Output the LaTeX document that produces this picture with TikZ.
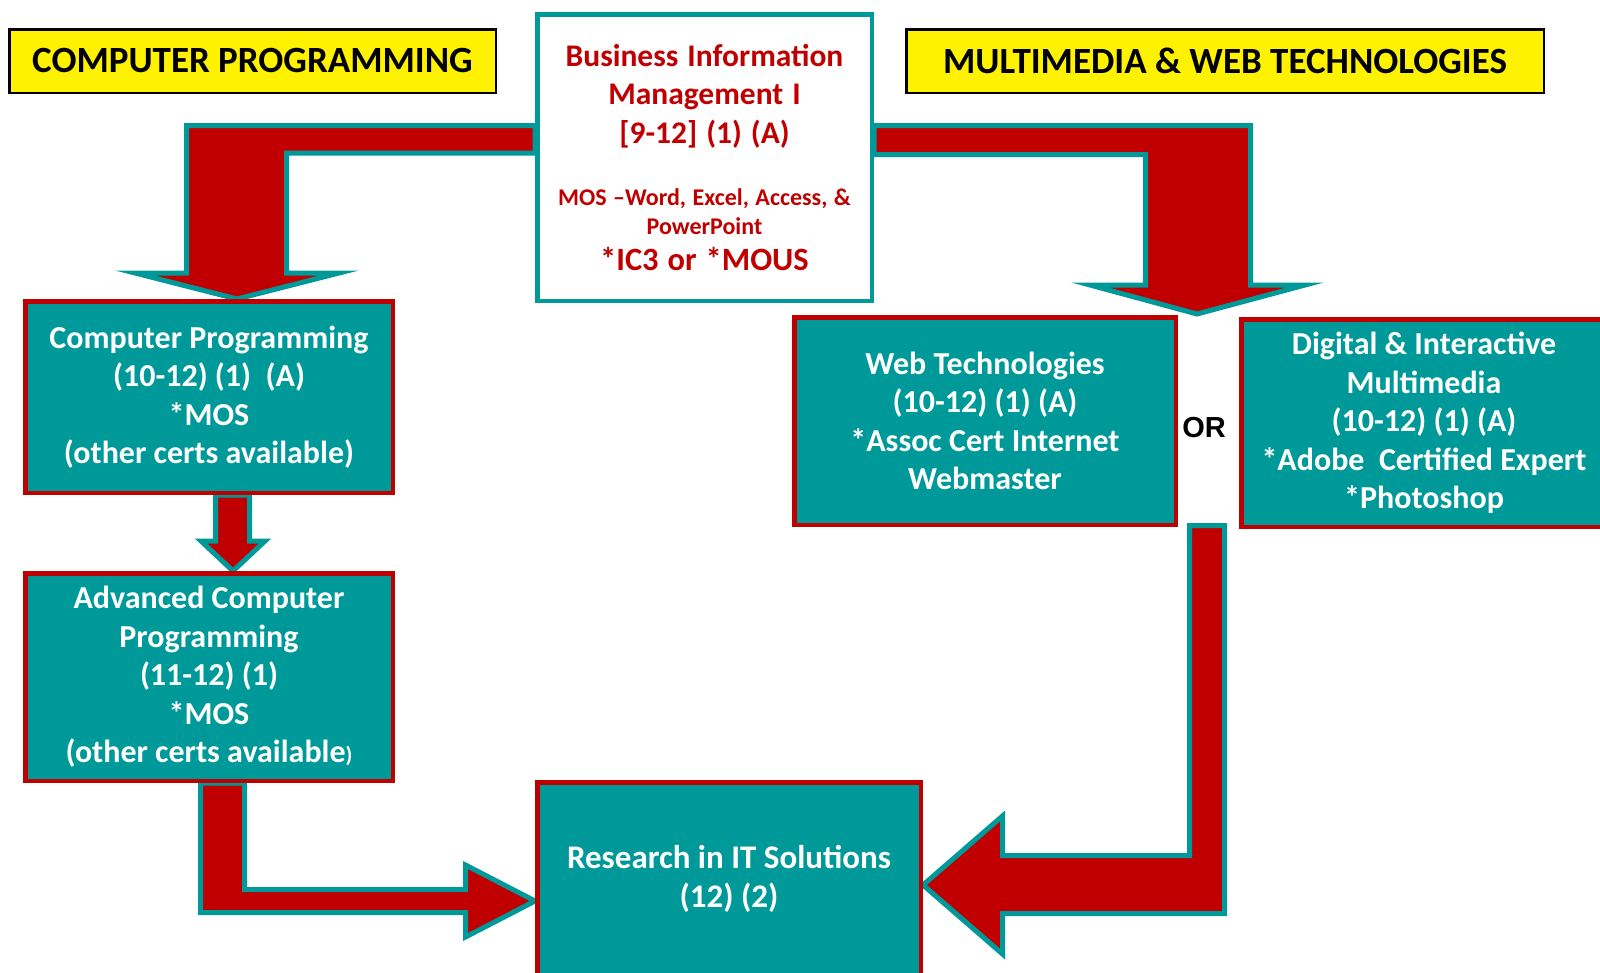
\documentclass[tikz,border=0pt]{standalone}
\usepackage{fontspec}
\setmainfont{Carlito}
\newfontfamily\orfont{Liberation Sans}
\usetikzlibrary{backgrounds}
\definecolor{tealbox}{RGB}{0,153,153}
\definecolor{pathred}{HTML}{C00000}
\tikzset{
  course/.style={draw=pathred,line width=4.5pt,fill=tealbox,text=white,align=center,inner sep=0pt,
    font=\bfseries\fontsize{32}{38.5}\selectfont},
  banner/.style={draw=black,line width=2.5pt,fill=yellow,inner sep=0pt,
    font=\bfseries\fontsize{37}{40}\selectfont},
  bigarrow/.style={draw=tealbox,line width=5pt,fill=pathred,line join=miter},
}

\begin{document}
\begin{tikzpicture}[x=1pt,y=-1pt]
  \useasboundingbox (0,0) rectangle (1600,972);
  \clip (0,0) rectangle (1600,972);
  % the two pathways
  \node[banner,minimum width=486.5pt,minimum height=63.5pt] (cphead) at (252.5,61) {COMPUTER PROGRAMMING};
  \node[banner,minimum width=637.5pt,minimum height=63.5pt] (mwhead) at (1225,61) {MULTIMEDIA \& WEB TECHNOLOGIES};
  % first course
  \node[draw=tealbox,line width=4.5pt,fill=white,text=pathred,text width=330pt,align=center,inner sep=0pt,
        minimum width=334.5pt,minimum height=286.5pt,font=\bfseries] (bim) at (704.5,157.5)
    {{\fontsize{31.5}{38.5}\selectfont\spaceskip=9pt Business Information\\Management I\\{[}9-12] (1) (A)\par}
     \vspace{34pt}
     {\fontsize{24}{28.6}\selectfont\spaceskip=6.5pt MOS –Word, Excel, Access, \&\\PowerPoint\par}
     {\fontsize{32.5}{36}\selectfont\spaceskip=9pt *IC3 or *MOUS\par}};
  % courses
  \node[course,minimum width=367.5pt,minimum height=191.5pt] (cp) at (209,397)
    {Computer Programming\\(10-12) (1) \ (A)\\{*}MOS\\(other certs available)};
  \node[course,minimum width=367.5pt,minimum height=207.5pt] (acp) at (209,677)
    {Advanced Computer\\Programming\\(11-12) (1)\\{*}MOS\\(other certs available{\fontsize{22}{22}\selectfont)}};
  \node[course,minimum width=381.5pt,minimum height=207.5pt] (web) at (985,421)
    {Web Technologies\\(10-12) (1) (A)\\{*}Assoc Cert Internet\\Webmaster};
  \node[course,minimum width=365.5pt,minimum height=207.5pt] (dim) at (1424,423)
    {Digital \& Interactive\\Multimedia\\(10-12) (1) (A)\\{*}Adobe \ Certified Expert\\{*}Photoshop};
  \node[course,minimum width=383.5pt,minimum height=193.5pt,font=\bfseries\fontsize{33}{38.5}\selectfont] (rit) at (729,879)
    {Research in IT Solutions\\(12) (2)};
  \node[font=\orfont\bfseries\fontsize{29}{32}\selectfont,inner sep=0pt] (or) at (1204,428) {OR};
  % block arrows behind the boxes
  \begin{scope}[on background layer]
    \draw[bigarrow] (bim.west |- 0,125.5) -- (186.5,125.5) -- (186.5,273) -- (135,273)
      -- (cp.north -| 237,0) -- (339,273) -- (286.5,273) -- (286.5,153) -- (bim.west |- 0,153) -- cycle;
    \draw[bigarrow] (bim.east |- 0,125.5) -- (1250.5,125.5) -- (1250.5,285) -- (1305,285)
      -- (1197,314) -- (1090,285) -- (1145.5,285) -- (1145.5,154.5) -- (bim.east |- 0,154.5) -- cycle;
    \draw[bigarrow] (cp.south -| 215.5,0) -- (215.5,541) -- (201,541) -- (acp.north -| 233,0)
      -- (265,541) -- (249.5,541) -- (cp.south -| 249.5,0) -- cycle;
    \draw[bigarrow] (acp.south -| 200.5,0) -- (200.5,912.5) -- (465.5,912.5) -- (465.5,937)
      -- (rit.west |- 0,901) -- (465.5,865) -- (465.5,889.5) -- (244.5,889.5) -- (acp.south -| 244.5,0) -- cycle;
    \draw[bigarrow] (1189.5,525.5) -- (1224.5,525.5) -- (1224.5,913.5) -- (1002.5,913.5) -- (1002.5,954)
      -- (rit.east |- 0,885) -- (1002.5,816) -- (1002.5,855.5) -- (1189.5,855.5) -- cycle;
  \end{scope}
\end{tikzpicture}
\end{document}
